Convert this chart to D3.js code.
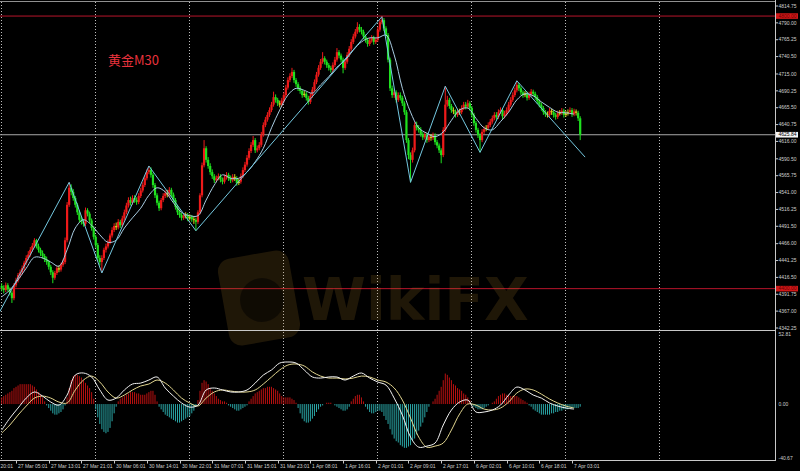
<!DOCTYPE html>
<html><head><meta charset="utf-8">
<script src="https://cdn.jsdelivr.net/npm/d3@7"></script>
<style>html,body{margin:0;padding:0;background:#000;overflow:hidden}</style>
</head><body>
<script>
// ---------- DATA (gold M30) ----------
const opens = [
4404,4401,4398,4405,4399,4394,4386,4405,4412,4420,
4424,4430,4438,4445,4450,4457,4463,4471,4462,4457,
4452,4448,4443,4439,4432,4424,4416,4423,4430,4428,
4435,4439,4471,4523,4548,4542,4533,4523,4512,4501,
4498,4495,4515,4510,4500,4489,4476,4464,4445,4439,
4445,4457,4462,4468,4478,4486,4492,4490,4498,4493,
4503,4512,4522,4530,4526,4533,4530,4527,4536,4544,
4552,4562,4571,4574,4567,4552,4537,4526,4518,4530,
4536,4540,4538,4545,4538,4530,4520,4512,4508,4504,
4507,4508,4503,4505,4502,4501,4498,4512,4537,4581,
4606,4589,4580,4571,4565,4559,4562,4565,4560,4557,
4563,4567,4562,4559,4564,4562,4555,4557,4565,4574,
4582,4592,4602,4611,4618,4603,4606,4611,4626,4640,
4648,4655,4662,4670,4681,4677,4672,4670,4676,4684,
4695,4706,4712,4718,4706,4700,4694,4690,4684,4686,
4680,4674,4683,4692,4703,4714,4724,4733,4738,4733,
4728,4724,4721,4728,4736,4747,4742,4736,4724,4733,
4743,4752,4762,4770,4777,4784,4780,4777,4770,4765,
4759,4764,4768,4762,4765,4780,4791,4794,4782,4772,
4736,4694,4684,4688,4677,4684,4680,4672,4659,4618,
4596,4589,4603,4640,4636,4633,4627,4622,4626,4618,
4623,4621,4625,4615,4610,4603,4596,4633,4670,4677,
4668,4662,4660,4655,4660,4659,4665,4670,4667,4672,
4665,4655,4643,4633,4625,4618,4630,4634,4636,4640,
4645,4650,4655,4652,4659,4662,4653,4657,4662,4670,
4677,4684,4691,4699,4694,4688,4684,4686,4680,4685,
4689,4686,4681,4675,4670,4665,4659,4656,4655,4661,
4659,4655,4652,4657,4658,4661,4655,4657,4659,4662,
4656,4660,4658,4650];
const highs = [
4408,4405,4409,4408,4402,4397,4408,4416,4423,4428,
4434,4441,4449,4455,4461,4467,4474,4473,4466,4460,
4456,4451,4447,4442,4435,4427,4426,4433,4434,4438,
4443,4475,4527,4556,4553,4546,4536,4526,4515,4505,
4502,4519,4518,4513,4503,4492,4479,4467,4449,4449,
4460,4466,4472,4481,4490,4496,4497,4502,4501,4507,
4516,4526,4534,4535,4537,4537,4534,4540,4548,4556,
4566,4575,4580,4578,4570,4555,4540,4529,4533,4540,
4544,4545,4549,4548,4541,4533,4523,4516,4511,4511,
4512,4511,4509,4508,4506,4504,4515,4540,4585,4618,
4609,4593,4584,4575,4568,4566,4569,4568,4563,4567,
4571,4570,4566,4568,4568,4565,4561,4569,4578,4586,
4596,4606,4615,4624,4621,4610,4615,4630,4644,4652,
4659,4666,4674,4689,4685,4680,4676,4680,4688,4699,
4710,4716,4724,4721,4709,4703,4697,4693,4690,4689,
4683,4687,4696,4707,4718,4728,4737,4747,4741,4736,
4731,4727,4732,4740,4753,4750,4745,4739,4737,4747,
4756,4766,4774,4781,4791,4788,4784,4780,4773,4768,
4768,4772,4771,4769,4784,4795,4800,4797,4785,4775,
4739,4698,4692,4691,4688,4688,4683,4675,4662,4621,
4600,4607,4644,4645,4640,4637,4630,4630,4629,4627,
4627,4629,4628,4618,4613,4606,4637,4697,4683,4680,
4671,4666,4663,4664,4664,4669,4674,4674,4677,4675,
4668,4658,4646,4636,4628,4634,4638,4640,4644,4649,
4654,4659,4659,4663,4666,4665,4661,4666,4674,4681,
4688,4695,4705,4702,4697,4691,4690,4689,4689,4693,
4692,4689,4684,4678,4673,4668,4662,4660,4665,4664,
4662,4658,4661,4662,4665,4664,4661,4663,4666,4665,
4664,4663,4661,4653];
const lows = [
4396,4393,4395,4396,4390,4379,4383,4402,4409,4416,
4421,4427,4435,4442,4447,4454,4460,4459,4453,4448,
4444,4439,4435,4428,4420,4408,4413,4420,4424,4425,
4432,4436,4468,4520,4537,4529,4519,4508,4497,4494,
4491,4492,4506,4496,4485,4472,4460,4441,4434,4424,
4442,4453,4459,4465,4475,4483,4486,4487,4489,4490,
4500,4509,4519,4522,4523,4526,4523,4524,4533,4541,
4549,4559,4568,4563,4548,4533,4522,4514,4515,4527,
4533,4534,4535,4534,4526,4516,4508,4504,4500,4501,
4503,4499,4500,4498,4495,4485,4495,4509,4534,4578,
4585,4576,4567,4561,4555,4556,4559,4556,4553,4554,
4560,4558,4555,4556,4558,4551,4552,4554,4562,4571,
4579,4589,4599,4608,4599,4600,4603,4608,4623,4637,
4645,4652,4659,4667,4673,4668,4666,4667,4673,4681,
4692,4703,4709,4702,4696,4690,4686,4680,4681,4676,
4670,4671,4680,4689,4700,4711,4721,4730,4729,4724,
4720,4717,4718,4725,4733,4738,4732,4716,4721,4730,
4740,4749,4759,4767,4774,4776,4773,4766,4761,4755,
4756,4761,4758,4759,4762,4777,4788,4778,4768,4732,
4690,4680,4680,4673,4674,4676,4668,4655,4614,4590,
4556,4585,4600,4632,4629,4623,4618,4619,4614,4615,
4617,4618,4611,4606,4599,4584,4593,4630,4667,4664,
4658,4656,4651,4652,4655,4656,4662,4663,4664,4661,
4651,4639,4629,4621,4600,4615,4627,4631,4633,4637,
4642,4647,4648,4649,4656,4649,4650,4654,4659,4667,
4674,4681,4688,4690,4684,4680,4681,4676,4677,4682,
4682,4677,4671,4666,4661,4655,4652,4651,4652,4655,
4651,4648,4649,4654,4655,4651,4652,4654,4656,4652,
4653,4654,4646,4618];
const closes = [
4401,4398,4405,4399,4394,4386,4405,4412,4420,4424,
4430,4438,4445,4450,4457,4463,4471,4462,4457,4452,
4448,4443,4439,4432,4424,4416,4423,4430,4428,4435,
4439,4471,4523,4548,4542,4533,4523,4512,4501,4498,
4495,4515,4510,4500,4489,4476,4464,4445,4439,4445,
4457,4462,4468,4478,4486,4492,4490,4498,4493,4503,
4512,4522,4530,4526,4533,4530,4527,4536,4544,4552,
4562,4571,4574,4567,4552,4537,4526,4518,4530,4536,
4540,4538,4545,4538,4530,4520,4512,4508,4504,4507,
4508,4503,4505,4502,4501,4498,4512,4537,4581,4606,
4589,4580,4571,4565,4559,4562,4565,4560,4557,4563,
4567,4562,4559,4564,4562,4555,4557,4565,4574,4582,
4592,4602,4611,4618,4603,4606,4611,4626,4640,4648,
4655,4662,4670,4681,4677,4672,4670,4676,4684,4695,
4706,4712,4718,4706,4700,4694,4690,4684,4686,4680,
4674,4683,4692,4703,4714,4724,4733,4738,4733,4728,
4724,4721,4728,4736,4747,4742,4736,4724,4733,4743,
4752,4762,4770,4777,4784,4780,4777,4770,4765,4759,
4764,4768,4762,4765,4780,4791,4794,4782,4772,4736,
4694,4684,4688,4677,4684,4680,4672,4659,4618,4596,
4589,4603,4640,4636,4633,4627,4622,4626,4618,4623,
4621,4625,4615,4610,4603,4596,4633,4670,4677,4668,
4662,4660,4655,4660,4659,4665,4670,4667,4672,4665,
4655,4643,4633,4625,4618,4630,4634,4636,4640,4645,
4650,4655,4652,4659,4662,4653,4657,4662,4670,4677,
4684,4691,4699,4694,4688,4684,4686,4680,4685,4689,
4686,4681,4675,4670,4665,4659,4656,4655,4661,4659,
4655,4652,4657,4658,4661,4655,4657,4659,4662,4656,
4660,4658,4650,4625.84];

// moving average, read every 4th bar
const maEvery4 = [4388,4398,4413,4430,4446,4445,4439,4433,4457,4489,
4501,4493,4479,4468,4471,4489,4504,4518,4537,4548,
4542,4526,4512,4507,4507,4530,4552,4567,4562,4562,
4571,4586,4606,4636,4662,4684,4694,4691,4687,4699,
4711,4725,4735,4750,4762,4768,4768,4772,4743,4694,
4659,4636,4628,4623,4630,4647,4662,4665,4650,4636,
4633,4645,4659,4677,4686,4683,4674,4666,4659,4658,4656];

// zigzag pivots: bar index and price
const zigBars   = [-1, 33, 49, 72, 95, 186, 200, 217, 234, 252, 285.4];
const zigPrices = [4366, 4556, 4423, 4580, 4485, 4799, 4556, 4697, 4600, 4705, 4593];

// oscillator histogram, one value per bar
const histValues = [
5,6,7,8,9,10,12,13,14,15,15,15,15,15,15,14,13,11,9,7,5,2,
-1,-3,-5,-7,-8,-8,-7,-6,-4,-1,
5,12,18,21,22,22,21,20,18,16,14,12,9,4,
-4,-10,-15,-19,-21,-22,-21,-18,-13,-7,-2,
2,4,5,6,7,8,9,9,9,8,8,7,7,7,8,9,10,10,7,2,
-2,-4,-6,-8,-9,-10,-11,-12,-13,-14,-14,-13,-12,-11,-10,-9,-7,-5,-2,
3,10,16,18,17,15,12,10,8,6,4,
3,2,2,1,
-1,-2,-3,-4,-5,-5,-4,-3,-2,-1,
2,4,6,8,9,10,11,12,12,13,13,13,12,11,10,8,6,5,5,5,5,4,3,1,
-3,-7,-11,-13,-14,-14,-13,-11,-9,-6,-4,-2,
-1,0,1,1,1,0,-1,-2,-3,
-4,-5,-5,-4,-2,
2,4,6,7,7,5,2,
-2,-4,-6,-7,-7,-6,-5,-5,-6,
-9,-12,-15,-19,-23,-26,-28,-29,-31,-32,-33,-33,-32,-31,-28,-26,-23,-20,-17,-14,-10,-6,
-2,0,2,
4,7,10,13,18,23,22,20,18,15,14,12,11,10,8,7,5,3,
-1,-2,-3,-4,-4,-4,-3,-2,-1,
0,1,2,4,6,7,8,8,7,7,6,6,6,6,5,4,3,2,1,
-1,-2,-4,-5,-6,-7,-8,-8,-8,-8,-8,-7,-7,-6,-6,-5,-5,-4,-4,-4,-3,-3,-3,-3,-3,-2];

// oscillator lines, read every 4th bar
const fastEvery4 = [-19.6,-10.6,-3.0,4.5,9.1,6.0,1.5,-0.8,6.8,21.9,
23.4,20.4,10.6,3.0,4.5,10.6,15.1,15.8,18.1,20.4,
12.1,6.0,0.8,-2.3,-0.8,10.6,12.1,10.6,9.1,9.1,
10.6,15.8,21.9,25.7,30.9,31.7,30.9,25.7,20.4,19.6,
20.4,20.4,18.1,21.1,23.4,19.6,16.6,14.3,4.5,-8.3,
-24.9,-32.5,-31.7,-29.4,-15.8,-4.5,1.5,3.0,-6.0,-6.0,
-4.5,-0.8,6.8,12.8,10.6,6.8,4.5,0.8,-1.5,-3.0,-3.8];
const slowEvery4 = [-21.9,-15.8,-8.3,-1.5,4.5,6.0,4.5,1.5,0.8,10.6,
18.1,21.1,16.6,9.1,4.5,6.8,10.6,13.6,15.1,18.1,
15.8,10.6,4.5,0.8,-1.5,4.5,9.1,10.6,9.8,9.1,
9.1,10.6,15.1,20.4,25.7,29.4,30.2,28.7,24.2,21.1,
19.6,19.6,18.9,19.6,21.1,20.4,18.1,16.6,12.1,3.0,
-10.6,-24.9,-32.5,-31.7,-29.4,-19.6,-7.5,0,-0.8,-3.8,
-4.5,-3.0,1.5,8.3,11.3,10.6,7.5,3.8,0.8,-1.5,-3.0];

const priceTicks = [4814.75,4790.00,4765.25,4740.50,4715.00,4690.25,4665.50,4640.75,4616.00,4590.50,
4565.75,4541.00,4516.25,4491.50,4466.00,4441.25,4416.50,4391.75,4367.00,4342.25];
const subTicks = [52.81, 0.00, -40.67];
const levelLines = [4800.00, 4400.00];
const lastPrice = 4625.84;
// the first label is cut by the left edge in the reference: only its time "20:01" shows
const timeLabels = ["20:01","27 Mar 05:01","27 Mar 13:01","27 Mar 21:01","30 Mar 06:01","30 Mar 14:01",
"30 Mar 22:01","31 Mar 07:01","31 Mar 15:01","31 Mar 23:01","1 Apr 08:01","1 Apr 16:01","2 Apr 01:01",
"2 Apr 09:01","2 Apr 17:01","6 Apr 02:01","6 Apr 10:01","6 Apr 18:01","7 Apr 03:01"];
const timeLabelBars = [-0.6,7,23,39,55,71,87,103,119,135,151,167,183,199,215,231,247,263,279];
const gridBars = [-0.5,45.5,91.5,137.5,183.5,229.5,275.5,321.5];
const title = "黄金M30";

// ---------- DRAWING ----------
const FONT = "'Liberation Sans', Arial, sans-serif";
const svg = d3.select("body").append("svg").attr("width",800).attr("height",471).style("display","block");
svg.append("rect").attr("width",800).attr("height",471).attr("fill","#000");

const axisX = 775.5;
const x = d3.scaleLinear().domain([0, 283]).range([1.7, 580.2]);
const yMain = d3.scaleLinear().domain([4342.25, 4814.75]).range([328, 6]);
const ySub = d3.scaleLinear().domain([-40.67, 52.81]).range([458, 334]);

const defs = svg.append("defs");
defs.append("clipPath").attr("id","cm").append("rect").attr("x",0).attr("y",2).attr("width",775).attr("height",328);
defs.append("clipPath").attr("id","cs").append("rect").attr("x",0).attr("y",331).attr("width",775).attr("height",129);

// grid
const grid = svg.append("g").attr("stroke","#bdbdbd").attr("stroke-dasharray","1,2").attr("stroke-width",1);
gridBars.forEach(b => {
  const gx = Math.round(x(b)) + 0.5;
  grid.append("line").attr("x1",gx).attr("x2",gx).attr("y1",2).attr("y2",330);
  grid.append("line").attr("x1",gx).attr("x2",gx).attr("y1",332).attr("y2",460);
});

// main pane
const main = svg.append("g").attr("clip-path","url(#cm)");

levelLines.forEach(p => {
  main.append("line").attr("x1",0).attr("x2",775).attr("y1",yMain(p)).attr("y2",yMain(p))
    .attr("stroke","#b8142a").attr("stroke-width",1);
});
main.append("line").attr("x1",0).attr("x2",775).attr("y1",yMain(lastPrice)).attr("y2",yMain(lastPrice))
  .attr("stroke","#a8a8a8").attr("stroke-width",1);

const bars = closes.map((c,i) => ({i, o:opens[i], h:highs[i], l:lows[i], c}));
const colorOf = d => Math.abs(d.c - d.o) < 2.5 ? "#d6cc1e" : (d.c > d.o ? "#ee1a1a" : "#1fe01f");
const cg = main.append("g");
cg.selectAll("line.w").data(bars).join("line").attr("class","w")
  .attr("x1",d=>x(d.i)).attr("x2",d=>x(d.i)).attr("y1",d=>yMain(d.h)).attr("y2",d=>yMain(d.l))
  .attr("stroke",colorOf).attr("stroke-width",1);
cg.selectAll("rect.b").data(bars).join("rect").attr("class","b")
  .attr("x",d=>x(d.i)-1.1).attr("width",2.2)
  .attr("y",d=>yMain(Math.max(d.o,d.c)))
  .attr("height",d=>Math.max(1, yMain(Math.min(d.o,d.c)) - yMain(Math.max(d.o,d.c))))
  .attr("fill",colorOf);

main.append("path").datum(maEvery4)
  .attr("d", d3.line().x((d,k)=>x(k*4)).y(d=>yMain(d)).curve(d3.curveCatmullRom))
  .attr("fill","none").attr("stroke","#a9cde3").attr("stroke-width",1);
main.append("path").datum(zigBars.map((b,k)=>[b,zigPrices[k]]))
  .attr("d", d3.line().x(d=>x(d[0])).y(d=>yMain(d[1])))
  .attr("fill","none").attr("stroke","#74c8e0").attr("stroke-width",1);

svg.append("text").attr("x",108).attr("y",65).attr("font-family","'Noto Sans CJK SC', sans-serif")
  .attr("font-size",13).attr("fill","#e8323c").text(title);

// sub pane
const sub = svg.append("g").attr("clip-path","url(#cs)");
sub.selectAll("line.h").data(histValues).join("line").attr("class","h")
  .attr("x1",(d,i)=>x(i)).attr("x2",(d,i)=>x(i)).attr("y1",ySub(0)).attr("y2",d=>ySub(d))
  .attr("stroke",d=> d>=0 ? "#b81010" : "#2aa6a6").attr("stroke-width",1);
sub.append("path").datum(slowEvery4)
  .attr("d", d3.line().x((d,k)=>x(k*4)).y(d=>ySub(d)).curve(d3.curveCatmullRom))
  .attr("fill","none").attr("stroke","#e2d690").attr("stroke-width",1);
sub.append("path").datum(fastEvery4)
  .attr("d", d3.line().x((d,k)=>x(k*4)).y(d=>ySub(d)).curve(d3.curveCatmullRom))
  .attr("fill","none").attr("stroke","#f2f2f2").attr("stroke-width",1);

// watermark (semi-transparent overlay)
const wm = svg.append("g").attr("opacity",0.17).attr("pointer-events","none");
wm.append("rect").attr("x",-36).attr("y",-44).attr("width",72).attr("height",88).attr("rx",13)
  .attr("fill","#b8862e").attr("transform","translate(259,298) rotate(-10)");
wm.append("circle").attr("cx",262).attr("cy",300).attr("r",22).attr("fill","#000").attr("opacity",0.5);
wm.append("text").attr("x",302).attr("y",320).attr("font-family","'DejaVu Sans', sans-serif")
  .attr("font-weight","bold").attr("font-size",58).attr("fill","#b8862e").text("WikiFX");

// frame lines
const frame = svg.append("g").attr("stroke","#c8c8c8").attr("stroke-width",1);
frame.append("line").attr("x1",0).attr("x2",axisX).attr("y1",1.5).attr("y2",1.5).attr("stroke","#909090");
frame.append("line").attr("x1",0).attr("x2",axisX).attr("y1",330.5).attr("y2",330.5);
frame.append("line").attr("x1",0).attr("x2",axisX).attr("y1",460.5).attr("y2",460.5);
frame.append("line").attr("x1",axisX).attr("x2",axisX).attr("y1",0).attr("y2",461);

// right axis labels
const ax = svg.append("g").attr("font-family",FONT).attr("font-size",5).attr("fill","#cfcfcf");
priceTicks.forEach(p => {
  const yy = yMain(p);
  ax.append("line").attr("x1",axisX).attr("x2",axisX+2.5).attr("y1",yy).attr("y2",yy).attr("stroke","#c8c8c8");
  ax.append("text").attr("x",778.5).attr("y",yy).attr("dy","0.35em").text(p.toFixed(2));
});
levelLines.forEach(p => {
  const yy = yMain(p);
  ax.append("rect").attr("x",776).attr("y",yy-2.8).attr("width",22).attr("height",5.6).attr("fill","#d01818");
  ax.append("text").attr("x",778.5).attr("y",yy).attr("dy","0.35em").attr("fill","#6a0000").text(p.toFixed(2));
});
{
  const yy = yMain(lastPrice);
  ax.append("rect").attr("x",776).attr("y",yy-2.8).attr("width",22).attr("height",5.6).attr("fill","#f4f4f4");
  ax.append("text").attr("x",778.5).attr("y",yy).attr("dy","0.35em").attr("fill","#000").text(lastPrice.toFixed(2));
}
subTicks.forEach(v => {
  const yy = ySub(v);
  ax.append("text").attr("x",778.5).attr("y",yy).attr("dy","0.35em").text(v.toFixed(2));
});

// time axis
timeLabels.forEach((t,k) => {
  const tx = Math.round(x(timeLabelBars[k])) + 0.5;
  if (k > 0) ax.append("line").attr("x1",tx).attr("x2",tx).attr("y1",460.5).attr("y2",463.5).attr("stroke","#c8c8c8");
  ax.append("text").attr("x",k > 0 ? tx+1.5 : 0.5).attr("y",467.5).text(t);
});
</script>
</body></html>
